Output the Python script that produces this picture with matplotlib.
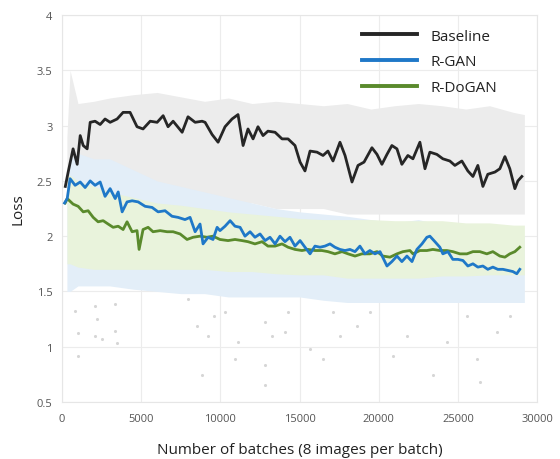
import matplotlib
matplotlib.use("Agg")
import matplotlib.pyplot as plt

plt.rcParams["font.family"] = ["Open Sans", "DejaVu Sans"]

# smoothed loss curves (batches, loss)
baseline_x = [200, 380, 690, 950, 1140, 1330, 1580, 1770, 2080, 2400, 2710, 3030, 3470, 3850,
              4290, 4730, 5110, 5560, 6000, 6380, 6690, 7010, 7580, 7950, 8400, 8840, 9030,
              9470, 9850, 10290, 10730, 11110, 11430, 11740, 12060, 12370, 12690, 13000,
              13450, 13890, 14270, 14710, 15030, 15340, 15660, 16100, 16480, 16790, 17110,
              17550, 17870, 18310, 18690, 19070, 19570, 19890, 20200, 20520, 20830, 21150,
              21460, 21840, 22160, 22600, 22920, 23230, 23670, 24050, 24490, 24810, 25250,
              25630, 25950, 26260, 26580, 26890, 27340, 27650, 27970, 28280, 28600, 28790,
              29040]
baseline_y = [2.45, 2.58, 2.79, 2.65, 2.91, 2.82, 2.79, 3.03, 3.04, 3.01, 3.06, 3.03, 3.06, 3.12,
              3.12, 2.99, 2.97, 3.04, 3.03, 3.09, 2.99, 3.04, 2.94, 3.08, 3.03, 3.04, 3.03,
              2.92, 2.85, 2.99, 3.06, 3.10, 2.82, 2.97, 2.88, 2.99, 2.91, 2.95,
              2.94, 2.88, 2.88, 2.82, 2.67, 2.59, 2.77, 2.76, 2.73, 2.77, 2.68,
              2.85, 2.73, 2.49, 2.64, 2.67, 2.80, 2.74, 2.65, 2.74, 2.82, 2.79,
              2.65, 2.73, 2.70, 2.85, 2.61, 2.76, 2.74, 2.70, 2.68, 2.64, 2.68,
              2.59, 2.54, 2.64, 2.45, 2.56, 2.58, 2.61, 2.72, 2.61, 2.43, 2.50,
              2.54]

rgan_x = [150, 320, 500, 820, 1140, 1450, 1770, 2080, 2400, 2710, 3030, 3350, 3540, 3790, 4100,
          4420, 4800, 5240, 5680, 6060, 6500, 6940, 7320, 7760, 8080, 8400, 8710, 8900, 9220,
          9530, 9790, 9970, 10290, 10610, 10920, 11240, 11550, 11870, 12180, 12500, 12820,
          13130, 13450, 13760, 14080, 14390, 14710, 15030, 15340, 15660, 15970, 16290, 16600,
          16920, 17230, 17550, 17870, 18180, 18500, 18810, 19130, 19440, 19760, 20080, 20520,
          20830, 21150, 21460, 21780, 22100, 22410, 22730, 23040, 23230, 23550, 23860, 24050,
          24370, 24680, 25000, 25320, 25630, 25950, 26260, 26580, 26890, 27210, 27520, 27840,
          28160, 28470, 28720, 28910]
rgan_y = [2.30, 2.34, 2.52, 2.46, 2.49, 2.44, 2.50, 2.46, 2.49, 2.36, 2.43, 2.34, 2.40, 2.22, 2.31,
          2.32, 2.31, 2.27, 2.26, 2.22, 2.23, 2.18, 2.17, 2.15, 2.17, 2.04, 2.11, 1.93, 1.99,
          1.97, 2.08, 2.05, 2.09, 2.14, 2.09, 2.08, 2.00, 2.04, 1.99, 2.02, 1.96,
          1.99, 1.93, 2.00, 1.95, 1.99, 1.91, 1.96, 1.90, 1.84, 1.91, 1.90, 1.91,
          1.93, 1.90, 1.88, 1.87, 1.88, 1.86, 1.91, 1.84, 1.87, 1.84, 1.86, 1.73,
          1.77, 1.82, 1.77, 1.82, 1.77, 1.88, 1.93, 1.99, 2.00, 1.95, 1.90, 1.84,
          1.86, 1.79, 1.79, 1.78, 1.73, 1.75, 1.72, 1.73, 1.70, 1.72, 1.70, 1.70,
          1.69, 1.68, 1.66, 1.70]

rdogan_x = [190, 320, 690, 1010, 1330, 1640, 1960, 2270, 2590, 2900, 3220, 3540, 3850, 4100, 4420,
            4730, 4860, 5110, 5430, 5740, 6190, 6630, 7010, 7450, 7890, 8270, 8710, 9150, 9530,
            9970, 10480, 10920, 11360, 11740, 12180, 12630, 13000, 13450, 13890, 14270, 14710,
            15150, 15530, 15970, 16410, 16790, 17230, 17680, 18060, 18500, 18940, 19440, 19890,
            20260, 20710, 21150, 21530, 21970, 22160, 22600, 23040, 23420, 23860, 24300, 24680,
            25130, 25570, 25950, 26390, 26830, 27210, 27650, 27970, 28280, 28600, 28910]
rdogan_y = [2.30, 2.34, 2.29, 2.27, 2.22, 2.23, 2.17, 2.13, 2.14, 2.11, 2.08, 2.09, 2.06, 2.13, 2.04,
            2.05, 1.88, 2.06, 2.08, 2.04, 2.05, 2.04, 2.04, 2.02, 1.97, 1.99, 2.00, 1.99, 2.00,
            1.97, 1.96, 1.97, 1.96, 1.95, 1.93, 1.95, 1.91, 1.91, 1.93, 1.90, 1.88,
            1.87, 1.88, 1.87, 1.87, 1.86, 1.84, 1.86, 1.84, 1.82, 1.84, 1.84, 1.86,
            1.82, 1.81, 1.84, 1.86, 1.87, 1.84, 1.87, 1.87, 1.88, 1.87, 1.87, 1.86,
            1.84, 1.84, 1.86, 1.86, 1.84, 1.86, 1.82, 1.81, 1.84, 1.86, 1.90]

# raw loss spread behind the curves (low / high envelope)
band_x = [300, 500, 1000, 2000, 3000, 4500, 6000, 7500, 9000, 10500, 12000, 13500, 15000,
          16500, 18000, 19500, 21000, 22500, 24000, 25500, 27000, 28500, 29200]
gray_lo = [2.30, 2.20, 2.25, 2.30, 2.35, 2.35, 2.35, 2.30, 2.30, 2.30, 2.30, 2.25, 2.25,
           2.25, 2.20, 2.20, 2.20, 2.20, 2.20, 2.20, 2.20, 2.20, 2.20]
gray_hi = [2.90, 3.50, 3.20, 3.22, 3.25, 3.28, 3.30, 3.26, 3.22, 3.25, 3.20, 3.22, 3.20,
           3.18, 3.20, 3.15, 3.18, 3.20, 3.18, 3.15, 3.18, 3.12, 3.10]
blue_lo = [1.50, 1.50, 1.55, 1.55, 1.55, 1.52, 1.50, 1.48, 1.48, 1.45, 1.45, 1.45, 1.45,
           1.42, 1.40, 1.40, 1.40, 1.40, 1.40, 1.40, 1.40, 1.40, 1.40]
blue_hi = [2.60, 2.70, 2.75, 2.70, 2.70, 2.60, 2.50, 2.45, 2.40, 2.35, 2.30, 2.25, 2.22,
           2.20, 2.18, 2.15, 2.12, 2.15, 2.10, 2.05, 2.02, 2.00, 2.00]
green_lo = [1.75, 1.75, 1.72, 1.70, 1.70, 1.70, 1.70, 1.70, 1.70, 1.68, 1.68, 1.66, 1.65,
            1.65, 1.62, 1.62, 1.62, 1.62, 1.64, 1.64, 1.65, 1.65, 1.65]
green_hi = [2.55, 2.55, 2.50, 2.45, 2.40, 2.35, 2.30, 2.28, 2.25, 2.22, 2.20, 2.18, 2.16,
            2.15, 2.15, 2.15, 2.14, 2.14, 2.14, 2.12, 2.12, 2.10, 2.10]

# stray low-loss samples
dots_x = [820, 1010, 1010, 2080, 2080, 2210, 2520, 3350, 3350, 3470, 7950, 8520, 8840, 9220,
          9600, 10290, 10920, 11110, 12820, 12820, 12820, 13260, 14080, 14270, 15660, 16480,
          17110, 17550, 18620, 19440, 20900, 21780, 23420, 24300, 25570, 26200, 26390, 27460,
          28280]
dots_y = [1.32, 1.12, 0.92, 1.37, 1.10, 1.25, 1.07, 1.39, 1.14, 1.03, 1.43, 1.19, 0.74, 1.10,
          1.28, 1.31, 0.89, 1.04, 1.22, 0.83, 0.65, 1.10, 1.13, 1.31, 0.98, 0.89,
          1.31, 1.10, 1.19, 1.31, 0.92, 1.10, 0.74, 1.04, 1.28, 0.89, 0.68, 1.13,
          1.28]

fig = plt.figure(figsize=(5.6, 4.6), dpi=100)
ax = fig.add_axes([0.111, 0.124, 0.848, 0.841])

ax.fill_between(band_x, gray_lo, gray_hi, color="#ececec", lw=0, zorder=1)
ax.fill_between(band_x, blue_lo, blue_hi, color="#e3eef8", lw=0, zorder=1.5)
ax.fill_between(band_x, green_lo, green_hi, color="#e9f3dc", lw=0, zorder=2)
ax.scatter(dots_x, dots_y, s=5, color="#d6d6d6", lw=0, zorder=2.5)

ax.plot(baseline_x, baseline_y, color="#262626", lw=2, label="Baseline", zorder=5)
ax.plot(rgan_x, rgan_y, color="#1f78c8", lw=2, label="R-GAN", zorder=4)
ax.plot(rdogan_x, rdogan_y, color="#5a8a2c", lw=2, label="R-DoGAN", zorder=3)

ax.set_xlim(0, 30000)
ax.set_ylim(0.5, 4)
ax.set_xticks(range(0, 30001, 5000))
ax.set_yticks([0.5, 1, 1.5, 2, 2.5, 3, 3.5, 4])
ax.set_yticklabels(["0.5", "1", "1.5", "2", "2.5", "3", "3.5", "4"])
ax.tick_params(length=0, labelsize=8, labelcolor="#555555")
ax.tick_params(axis="x", pad=8)
ax.tick_params(axis="y", pad=7)
ax.grid(True, color="#ececec", lw=0.8, zorder=0)
ax.set_axisbelow(True)
for s in ax.spines.values():
    s.set_color("#e6e6e6")
    s.set_linewidth(0.8)

ax.set_ylabel("Loss", fontsize=11, color="#222222", labelpad=8)
ax.set_xlabel("Number of batches (8 images per batch)", fontsize=11, color="#222222",
              labelpad=13)

leg = ax.legend(loc="upper left", bbox_to_anchor=(0.632, 0.965), frameon=False, fontsize=11,
                handlelength=3.6, handletextpad=0.85, labelspacing=0.7, borderpad=0,
                borderaxespad=0)
for h in leg.get_lines():
    h.set_linewidth(2.8)
for t in leg.get_texts():
    t.set_color("#222222")

fig.savefig("out.png", dpi=100)
